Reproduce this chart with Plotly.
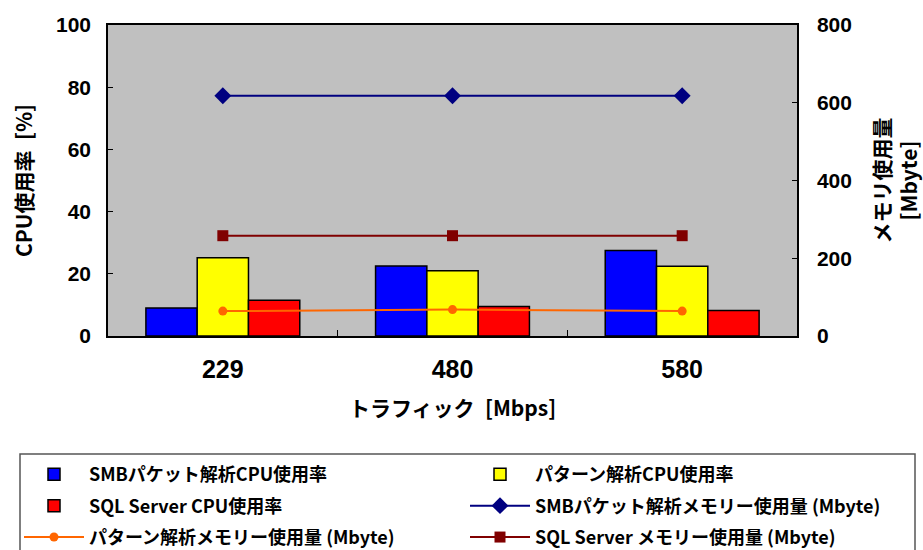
import plotly.graph_objects as go

# Traffic levels (Mbps) on the x axis
traffic = ["229", "480", "580"]

# CPU usage [%]
smb_cpu = [9.0, 22.5, 27.5]
pattern_cpu = [25.2, 21.0, 22.4]
sql_cpu = [11.5, 9.5, 8.2]

# Memory usage [Mbyte]
smb_mem = [618, 618, 618]
pattern_mem = [64, 68, 64]
sql_mem = [258, 258, 258]

FONT = "Liberation Sans, Arial, Noto Sans CJK JP, sans-serif"
JP = "Noto Sans CJK JP, Liberation Sans, sans-serif"

fig = go.Figure()

bar_line = dict(color="black", width=1.5)
# Left legend column: SMB CPU, SQL CPU, pattern memory
# Right legend column: pattern CPU, SMB memory, SQL memory
fig.add_trace(go.Bar(x=traffic, y=smb_cpu, name="SMBパケット解析CPU使用率",
                     legend="legend", legendgroup="a", legendrank=1,
                     marker=dict(color="#0000FF", line=bar_line)))
fig.add_trace(go.Bar(x=traffic, y=pattern_cpu, name="パターン解析CPU使用率",
                     legend="legend2", legendgroup="d", legendrank=1,
                     marker=dict(color="#FFFF00", line=bar_line)))
fig.add_trace(go.Bar(x=traffic, y=sql_cpu, name="SQL Server CPU使用率",
                     legend="legend", legendgroup="b", legendrank=2,
                     marker=dict(color="#FF0000", line=bar_line)))

fig.add_trace(go.Scatter(x=traffic, y=smb_mem, yaxis="y2", mode="lines+markers",
                         name="SMBパケット解析メモリー使用量 (Mbyte)",
                         legend="legend2", legendgroup="e", legendrank=2,
                         line=dict(color="#000080", width=2),
                         marker=dict(symbol="diamond", size=13, color="#000080")))
fig.add_trace(go.Scatter(x=traffic, y=pattern_mem, yaxis="y2", mode="lines+markers",
                         name="パターン解析メモリー使用量 (Mbyte)",
                         legend="legend", legendgroup="c", legendrank=3,
                         line=dict(color="#FF6600", width=2),
                         marker=dict(symbol="circle", size=9, color="#FF6600")))
fig.add_trace(go.Scatter(x=traffic, y=sql_mem, yaxis="y2", mode="lines+markers",
                         name="SQL Server メモリー使用量 (Mbyte)",
                         legend="legend2", legendgroup="f", legendrank=3,
                         line=dict(color="#800000", width=2),
                         marker=dict(symbol="square", size=11, color="#800000")))

legend_common = dict(
    orientation="v",
    yanchor="top", xanchor="left",
    bgcolor="rgba(0,0,0,0)", borderwidth=0,
    font=dict(family=JP, size=18, weight="bold"),
    itemwidth=60,
    tracegroupgap=5,
)

fig.update_layout(
    width=923, height=550,
    margin=dict(l=108, r=126, t=25, b=214, autoexpand=False),
    paper_bgcolor="white",
    plot_bgcolor="#C0C0C0",
    barmode="group",
    bargap=0.33,
    bargroupgap=0,
    font=dict(family=FONT, color="black"),
    xaxis=dict(
        type="category",
        showline=True, linecolor="black", linewidth=1.5, mirror=True,
        ticks="inside", tickson="boundaries", ticklen=6, tickcolor="black",
        tickfont=dict(family=FONT, size=25, weight="bold"),
        ticklabelstandoff=10,
        title=dict(text="トラフィック\u2002[Mbps]", standoff=20,
                   font=dict(family=JP, size=21, weight="bold")),
        showgrid=False,
    ),
    yaxis=dict(
        range=[0, 100], dtick=20,
        showline=True, linecolor="black", linewidth=1.5,
        ticks="inside", ticklen=5, tickcolor="black",
        tickfont=dict(family=FONT, size=21, weight="bold"),
        ticklabelstandoff=11,
        title=dict(text="CPU使用率\u2002[%]", standoff=18,
                   font=dict(family=JP, size=21, weight="bold")),
        showgrid=False, zeroline=False,
    ),
    yaxis2=dict(
        range=[0, 800], dtick=200,
        overlaying="y", side="right",
        showline=True, linecolor="black", linewidth=1.5,
        ticks="inside", ticklen=5, tickcolor="black",
        tickfont=dict(family=FONT, size=21, weight="bold"),
        ticklabelstandoff=14,
        title=dict(text="メモリ使用量<br>[Mbyte]", standoff=28,
                   font=dict(family=JP, size=21, weight="bold")),
        showgrid=False, zeroline=False,
    ),
    legend=dict(legend_common, x=(90 - 71 - 108) / 689, y=-0.386),
    legend2=dict(legend_common, x=(536 - 71 - 108) / 689, y=-0.386),
    shapes=[dict(type="rect", xref="paper", yref="paper",
                 x0=(20 - 108) / 689, x1=(915 - 108) / 689,
                 y0=(336 - 454) / 311, y1=(336 - 570) / 311,
                 line=dict(color="#555555", width=1.5),
                 fillcolor="white", layer="below")],
)

fig.write_html("out.html")
